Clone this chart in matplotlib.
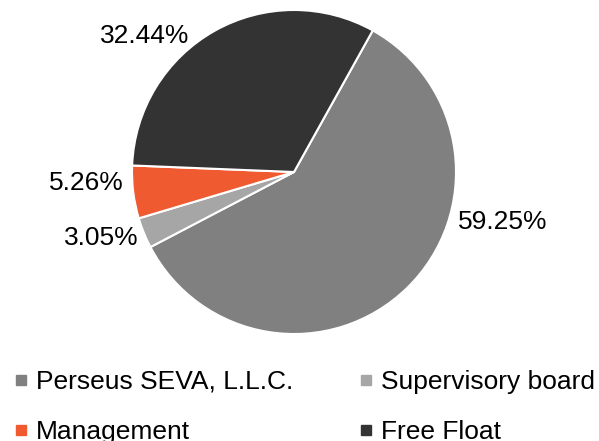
import matplotlib.pyplot as plt
from matplotlib.lines import Line2D

plt.rcParams['font.family'] = ['Liberation Sans', 'DejaVu Sans']

####################################################
# Data
####################################################
labels = ['Perseus SEVA, L.L.C.', 'Supervisory board', 'Management', 'Free Float']
shares = [59.25, 3.05, 5.26, 32.44]
colors = ['#808080', '#a6a6a6', '#f05a30', '#333333']
pct_text = ['59.25%', '3.05%', '5.26%', '32.44%']
# label positions, in pie radius units
label_pos = [(1.29, -0.31), (-1.19, -0.41), (-1.28, -0.07), (-0.92, 0.84)]

####################################################
# Plot
####################################################
W, H = 599, 441
cx, cy, R = 294, 172, 162

fig = plt.figure(figsize=(W / 100, H / 100), dpi=100)
ax = fig.add_axes([0, 0, 1, 1])
ax.pie(shares, colors=colors, startangle=60.9, counterclock=False,
       wedgeprops=dict(edgecolor='white', linewidth=1.5))
ax.set_xlim(-cx / R, (W - cx) / R)
ax.set_ylim(-(H - cy) / R, cy / R)
ax.set_aspect('auto')
ax.axis('off')

for t, (x, y) in zip(pct_text, label_pos):
    ax.text(x, y, t, fontsize=19, ha='center', va='center', color='#000000')

handles = [Line2D([0], [0], marker='s', linestyle='none', markersize=7.8,
                  markerfacecolor=c, markeredgecolor=c) for c in colors]
# legend is filled row by row
order = [0, 2, 1, 3]
fig.legend([handles[i] for i in order], [labels[i] for i in order], ncol=2,
           loc='upper left', bbox_to_anchor=(14.4 / W, 1 - 370 / H),
           frameon=False, fontsize=19, handlelength=0.5, handletextpad=0.32,
           columnspacing=2.52, labelspacing=0.98, borderpad=0, borderaxespad=0)

plt.savefig('out.png', dpi=100)
